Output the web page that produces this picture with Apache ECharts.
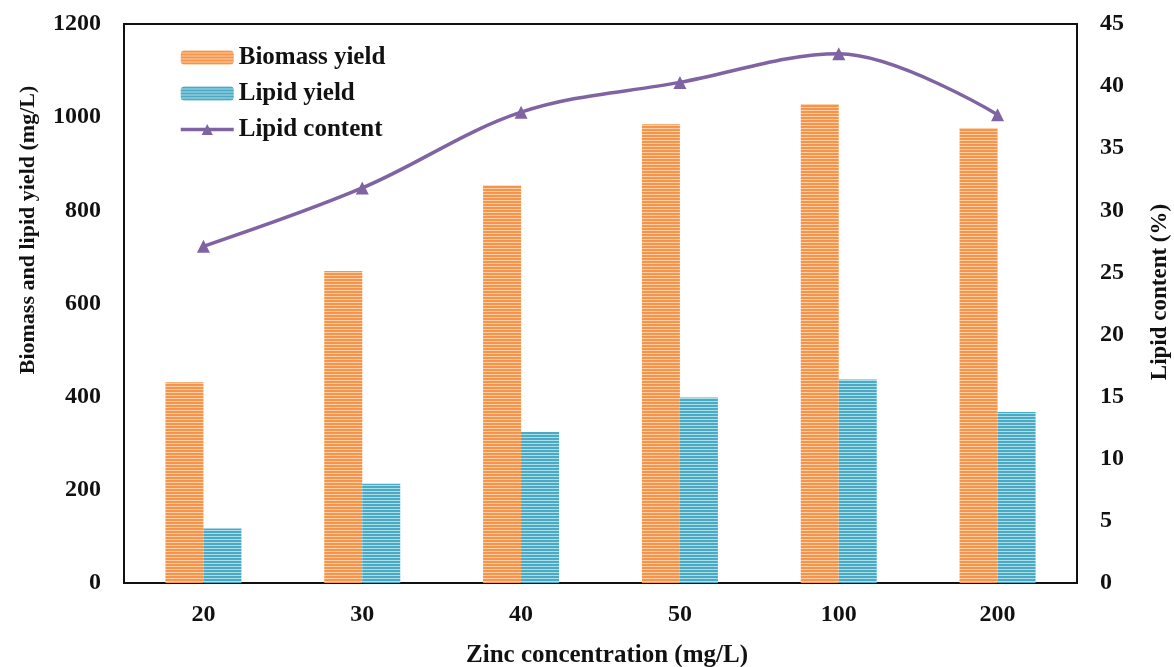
<!DOCTYPE html>
<html>
<head>
<meta charset="utf-8">
<script src="https://cdn.jsdelivr.net/npm/echarts@6/dist/echarts.min.js"></script>
<style>
  html, body { margin: 0; padding: 0; background: #fff; }
  #chart { width: 1174px; height: 667px; }
</style>
</head>
<body>
<div id="chart"></div>
<script>
// Zinc concentration levels (mg/L)
const categories = ['20', '30', '40', '50', '100', '200'];
// Biomass yield (mg/L)
const biomassYield = [431, 670, 854, 985, 1028, 977];
// Lipid yield (mg/L)
const lipidYield = [117, 213, 324, 398, 437, 367];
// Lipid content (%)
const lipidContent = [27.1, 31.8, 37.9, 40.3, 42.6, 37.7];

const FONT = '"Liberation Serif", "Times New Roman", serif';

// Horizontal-stripe fill used for the bars
function stripes(dark, light) {
  const c = document.createElement('canvas');
  c.width = 4; c.height = 3;
  const g = c.getContext('2d');
  g.fillStyle = dark; g.fillRect(0, 0, 4, 2);
  g.fillStyle = light; g.fillRect(0, 2, 4, 1);
  return { image: c, repeat: 'repeat' };
}
const orangeFill = stripes('#F5944A', '#FCCFA6');
const blueFill = stripes('#4AAAC4', '#AEDDEA');
const PURPLE = '#7F63A3';

const chart = echarts.init(document.getElementById('chart'));
const tickStyle = { fontFamily: FONT, fontWeight: 'bold', fontSize: 24, color: '#111' };

chart.setOption({
  animation: false,
  backgroundColor: '#fff',
  grid: {
    left: 124, right: 97, top: 24, bottom: 84,
    show: true, borderColor: '#111', borderWidth: 2, backgroundColor: 'transparent'
  },
  legend: {
    orient: 'vertical',
    left: 174, top: 40,
    itemWidth: 53, itemHeight: 14, itemGap: 11,
    textStyle: { fontFamily: FONT, fontWeight: 'bold', fontSize: 25, color: '#111' },
    data: [
      'Biomass yield',
      'Lipid yield',
      { name: 'Lipid content', lineStyle: { width: 3.5, color: PURPLE } }
    ]
  },
  xAxis: {
    type: 'category',
    data: categories,
    axisLine: { lineStyle: { color: '#111', width: 2 } },
    axisTick: { show: false },
    axisLabel: Object.assign({ margin: 20 }, tickStyle),
    splitLine: { show: false }
  },
  yAxis: [
    {
      type: 'value', min: 0, max: 1200, interval: 200,
      axisLine: { show: true, lineStyle: { color: '#111', width: 2 } },
      axisTick: { show: false },
      axisLabel: Object.assign({ margin: 23, formatter: v => String(v) }, tickStyle),
      splitLine: { show: false }
    },
    {
      type: 'value', min: 0, max: 45, interval: 5,
      axisLine: { show: true, lineStyle: { color: '#111', width: 2 } },
      axisTick: { show: false },
      axisLabel: Object.assign({ margin: 23 }, tickStyle),
      splitLine: { show: false }
    }
  ],
  // Axis titles placed as text elements
  graphic: [
    {
      type: 'text', rotation: Math.PI / 2, x: 28, y: 230,
      style: { text: 'Biomass and lipid yield (mg/L)', font: 'bold 22px ' + FONT, fill: '#111', align: 'center', verticalAlign: 'middle' }
    },
    {
      type: 'text', rotation: Math.PI / 2, x: 1160, y: 292,
      style: { text: 'Lipid content (%)', font: 'bold 23px ' + FONT, fill: '#111', align: 'center', verticalAlign: 'middle' }
    },
    {
      type: 'text', x: 607, y: 656,
      style: { text: 'Zinc concentration (mg/L)', font: 'bold 25px ' + FONT, fill: '#111', align: 'center', verticalAlign: 'middle' }
    }
  ],
  series: [
    {
      name: 'Biomass yield', type: 'bar', yAxisIndex: 0,
      data: biomassYield, barWidth: 38, barGap: '0%',
      itemStyle: { color: orangeFill }
    },
    {
      name: 'Lipid yield', type: 'bar', yAxisIndex: 0,
      data: lipidYield, barWidth: 38,
      itemStyle: { color: blueFill }
    },
    {
      name: 'Lipid content', type: 'line', yAxisIndex: 1,
      data: lipidContent, smooth: 0.35,
      symbol: 'triangle', symbolSize: 13,
      lineStyle: { color: PURPLE, width: 3.5 },
      itemStyle: { color: PURPLE }
    }
  ]
});
</script>
</body>
</html>
